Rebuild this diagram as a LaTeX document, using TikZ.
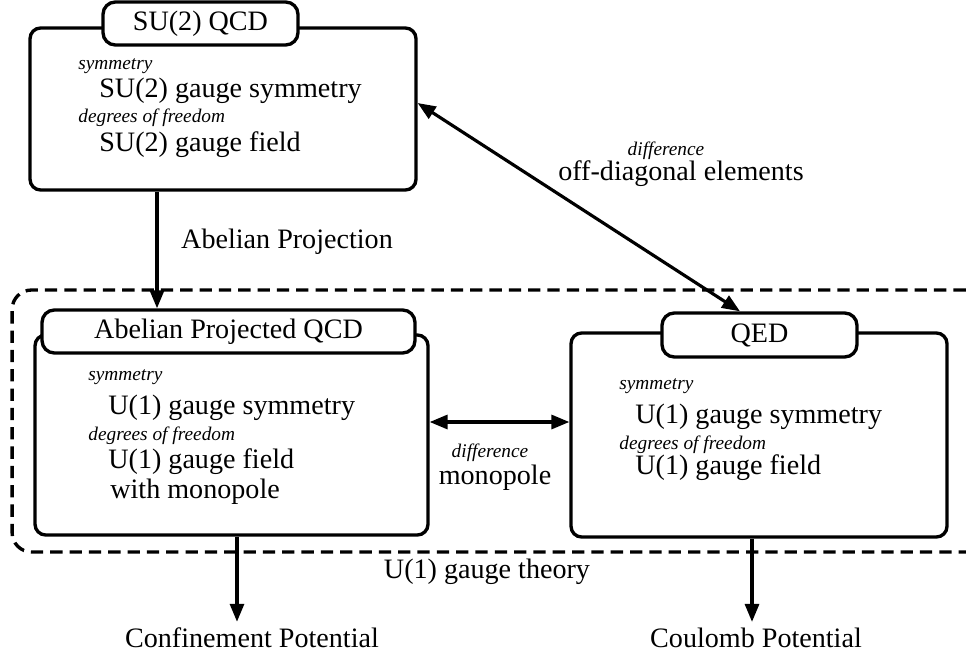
\documentclass[tikz,border=0pt]{standalone}
\usepackage{fontspec}
\setmainfont{Liberation Serif}
\usepackage{tikz}
\usetikzlibrary{shapes}
\usetikzlibrary{arrows.meta}
\usetikzlibrary{positioning}
\usetikzlibrary{calc}
\tikzstyle{boite}=[rectangle,draw,line width=1.9pt,rounded corners=6pt,inner sep=0pt]
\tikzstyle{onglet}=[rectangle,draw,line width=1.9pt,rounded corners=7pt,fill=white,
        inner sep=0pt,font=\fontsize{16}{19}\selectfont]
\tikzstyle{cadre}=[rectangle,draw,line width=1.9pt,dash pattern=on 7pt off 4pt,
        rounded corners=11pt,inner sep=0pt]
\tikzstyle{petit}=[anchor=west,inner sep=0pt,font=\fontsize{11}{13}\selectfont\itshape]
\tikzstyle{grand}=[anchor=west,inner sep=0pt,font=\fontsize{16}{19}\selectfont]
\tikzstyle{etiq}=[font=\fontsize{16}{19}\selectfont]
\tikzstyle{etiqpetit}=[inner sep=0pt,font=\fontsize{11}{13}\selectfont\itshape]
\tikzstyle{suite}=[-{Triangle[length=0.36cm,width=0.28cm]},line width=1.8pt]
\tikzstyle{suitedbl}=[{Triangle[length=0.36cm,width=0.28cm]}-{Triangle[length=0.36cm,width=0.28cm]},line width=1.8pt]

\begin{document}
\begin{tikzpicture}[x=0.02cm,y=-0.02cm]
\useasboundingbox (0,0) rectangle (966,655);
\node[cadre,minimum width=19.46cm,minimum height=5.24cm] (cadre) at (498.5,421) {};
\node[etiq] (theorie) at (487,572) {U(1) gauge theory};
% SU(2)
\node[boite,minimum width=7.72cm,minimum height=3.24cm] (sutop) at (223,109) {};
\node[onglet,minimum width=3.9cm,minimum height=0.86cm] (sutab) at (200.5,23.5) {SU(2) QCD};
\node[petit] (susym) at (78,66) {symmetry};
\node[grand] (susymv) at (99,91) {SU(2) gauge symmetry};
\node[petit] (sudof) at (78,118) {degrees of freedom};
\node[grand] (sudofv) at (99,145) {SU(2) gauge field};
% Abelian projected QCD
\node[boite,minimum width=7.86cm,minimum height=4cm] (abmain) at (231.5,435) {};
\node[onglet,minimum width=7.46cm,minimum height=0.86cm] (abtab) at (228.5,331.5) {Abelian Projected QCD};
\node[petit] (absym) at (88,377) {symmetry};
\node[grand] (absymv) at (108,408) {U(1) gauge symmetry};
\node[petit] (abdof) at (88,436) {degrees of freedom};
\node[grand] (abdofv) at (108,462) {U(1) gauge field};
\node[grand] (abmono) at (110,492) {with monopole};
% QED
\node[boite,minimum width=7.52cm,minimum height=4.08cm] (qedmain) at (759,435) {};
\node[onglet,minimum width=3.9cm,minimum height=0.88cm] (qedtab) at (759.5,335) {QED};
\node[petit] (qedsym) at (619,386) {symmetry};
\node[grand] (qedsymv) at (635,417) {U(1) gauge symmetry};
\node[petit] (qeddof) at (619,445) {degrees of freedom};
\node[grand] (qeddofv) at (635,468) {U(1) gauge field};
% labels
\node[etiq] (proj) at (287,242) {Abelian Projection};
\node[etiqpetit] (diff1) at (666,151) {difference};
\node[etiq] (offdiag) at (681,174) {off-diagonal elements};
\node[etiqpetit] (diff2) at (490,453) {difference};
\node[etiq] (mono) at (495,478) {monopole};
\node[etiq] (conf) at (252,638) {Confinement Potential};
\node[etiq] (coul) at (756,638) {Coulomb Potential};
%Placement des fleches
\draw[suite] ([xshift=-1.32cm]sutop.south) -- ([xshift=-1.32cm]sutop.south |- abtab.north);
\draw[suitedbl] ([yshift=0.12cm]sutop.east) -- ([xshift=-0.39cm]qedtab.north);
\draw[suitedbl] ([yshift=0.26cm]abmain.east) -- ([yshift=0.26cm]abmain.east -| qedmain.west);
\draw[suite] ([xshift=0.11cm]abmain.south) -- ([xshift=0.11cm]abmain.south |- conf.north);
\draw[suite] ([xshift=-0.14cm]qedmain.south) -- ([xshift=-0.14cm]qedmain.south |- coul.north);
\end{tikzpicture}
\end{document}
